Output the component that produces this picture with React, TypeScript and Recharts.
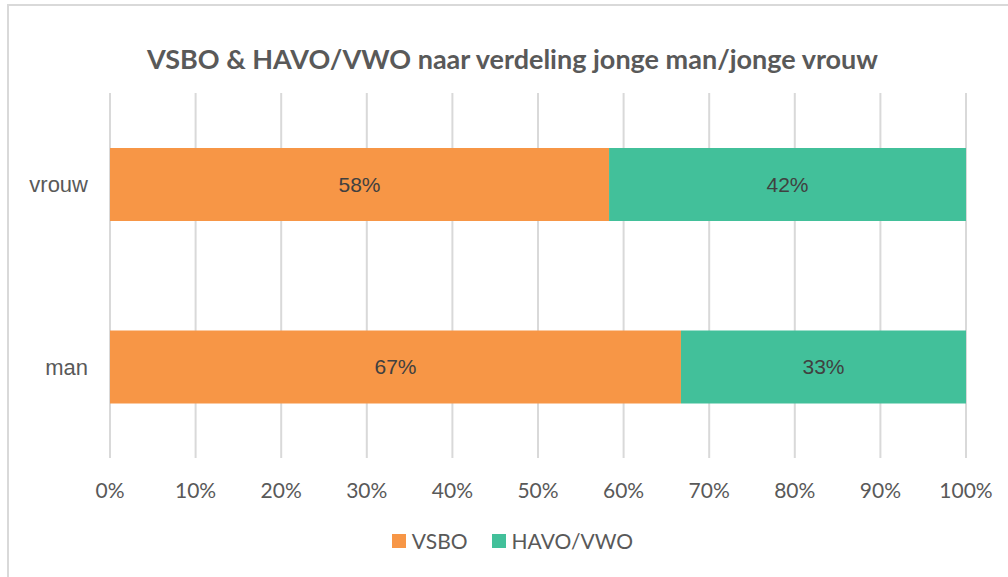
import { BarChart, Bar, XAxis, YAxis, CartesianGrid, Legend, LabelList } from 'recharts';

const categories = ['vrouw', 'man'];
const vsbo = [58.3, 66.7];
const havoVwo = [41.7, 33.3];
const xTicks = [0, 10, 20, 30, 40, 50, 60, 70, 80, 90, 100];

const data = categories.map((name, i) => ({ name, vsbo: vsbo[i], havo: havoVwo[i] }));

const ORANGE = '#F79646';
const TEAL = '#42C09A';

const pct = (v: any) => `${Math.round(Number(v))}%`;

function LegendBox({ payload }: any) {
  return (
    <div style={{ display: 'flex', justifyContent: 'center', fontFamily: 'Lato', fontSize: 21, color: '#595959' }}>
      {(payload || []).map((p: any, i: number) => (
        <span key={i} style={{ display: 'inline-flex', alignItems: 'center', marginLeft: i ? 24 : 0 }}>
          <span style={{ width: 14, height: 14, background: p.color, display: 'inline-block', marginRight: 6 }} />
          {p.value}
        </span>
      ))}
    </div>
  );
}

export default function App() {
  return (
    <div style={{ position: 'absolute', left: 0, top: 0, width: 1008, height: 577, background: '#fff' }}>
      <div
        style={{
          position: 'absolute', left: 7, top: 4, width: 1001, height: 573,
          borderTop: '2px solid #D9D9D9', borderLeft: '2px solid #D9D9D9',
        }}
      />
      <div
        style={{
          position: 'absolute', left: 0, top: 42, width: 1025, textAlign: 'center',
          fontFamily: 'Lato', fontWeight: 700, fontSize: 27, color: '#595959',
        }}
      >
        VSBO &amp; HAVO/VWO naar verdeling jonge man/jonge vrouw
      </div>
      <BarChart
        width={1008}
        height={577}
        data={data}
        layout="vertical"
        margin={{ top: 93, right: 42, bottom: 79, left: 0 }}
        style={{ position: 'absolute', left: 0, top: 0 }}
      >
        <CartesianGrid horizontal={false} stroke="#D9D9D9" strokeWidth={2} />
        <XAxis
          type="number"
          domain={[0, 100]}
          ticks={xTicks}
          tickFormatter={(v) => `${v}%`}
          axisLine={false}
          tickLine={false}
          tickMargin={19}
          height={40}
          tick={{ fill: '#595959', fontSize: 21, fontFamily: 'Lato' }}
        />
        <YAxis
          type="category"
          dataKey="name"
          width={110}
          axisLine={false}
          tickLine={false}
          tickMargin={16}
          tick={{ fill: '#595959', fontSize: 22, fontFamily: 'Liberation Sans' }}
        />
        <Legend
          layout="horizontal"
          verticalAlign="middle"
          align="center"
          itemSorter={null}
          content={<LegendBox />}
          wrapperStyle={{ position: 'absolute', top: 528, left: 0, width: 1025 }}
        />
        <Bar dataKey="vsbo" name="VSBO" stackId="a" fill={ORANGE} barSize={73} isAnimationActive={false}>
          <LabelList dataKey="vsbo" position="center" formatter={pct} fill="#404040" fontSize={21} fontFamily="Liberation Sans" />
        </Bar>
        <Bar dataKey="havo" name="HAVO/VWO" stackId="a" fill={TEAL} barSize={73} isAnimationActive={false}>
          <LabelList dataKey="havo" position="center" formatter={pct} fill="#404040" fontSize={21} fontFamily="Liberation Sans" />
        </Bar>
      </BarChart>
    </div>
  );
}
